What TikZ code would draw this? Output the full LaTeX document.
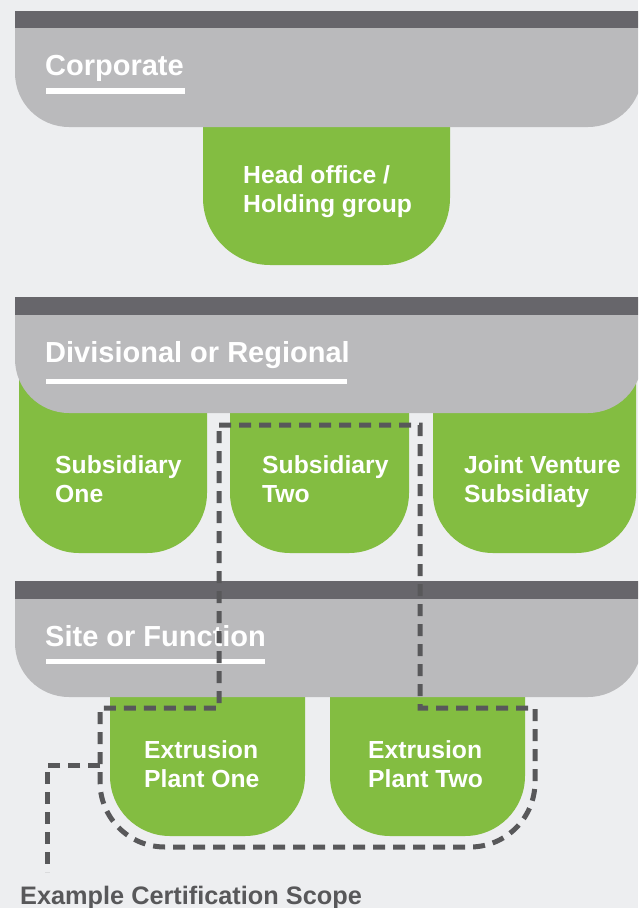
\documentclass[tikz,border=0pt]{standalone}
\usepackage{fontspec}
\setmainfont{Liberation Sans}
\definecolor{bgc}{HTML}{EDEEF0}
\definecolor{barc}{HTML}{67666B}
\definecolor{bandc}{HTML}{BABABC}
\definecolor{grn}{HTML}{83BD41}
\definecolor{dashc}{HTML}{58585A}
\newcommand\greenbox[5]{% x1 x2 top bottom radius
  \fill[grn] (#1,#3) -- (#1,{#4-#5}) arc[start angle=180,end angle=270,radius=#5pt]
    -- ({#2-#5},#4) arc[start angle=270,end angle=360,radius=#5pt] -- (#2,#3) -- cycle;}
\newcommand\tierband[3]{% bar top, band top, band bottom
  \fill[barc] (15,#1) rectangle (640,#2);
  \fill[bandc] (15,#2) -- (15,{#3-54}) arc[start angle=180,end angle=270,radius=54pt]
    -- (588,#3) arc[start angle=270,end angle=360,radius=54pt] -- (642,#2) -- cycle;}
\tikzset{
  hdr/.style={anchor=base west, inner sep=0pt, text=white, font=\fontsize{29}{34}\selectfont\bfseries},
  lbl/.style={anchor=base west, inner sep=0pt, text=white, align=left, font=\fontsize{24.7}{29}\selectfont\bfseries},
  uline/.style={fill=white},
  scope line/.style={draw=dashc, line width=5pt, dash pattern=on 12pt off 8pt}
}
\begin{document}
\begin{tikzpicture}[x=1pt,y=-1pt]
\useasboundingbox (0,0) rectangle (638,908);
\clip (0,0) rectangle (638,908);
\fill[bgc] (0,0) rectangle (638,908);
% tier 1
\greenbox{203}{450}{40}{265}{67}
\tierband{11}{28}{127}
\node[hdr] (corp) at (45,75) {Corporate};
\fill[uline] (46,88) rectangle (185,94);
\node[lbl] (ho) at (243,212) {Head office /\\Holding group};
% tier 2
\greenbox{19}{207}{330}{553}{60}
\greenbox{230}{409}{330}{553}{60}
\greenbox{433}{636}{330}{553}{60}
\tierband{297}{315}{413}
\node[hdr] (div) at (45,362) {Divisional or Regional};
\fill[uline] (46,379) rectangle (347,384);
\node[lbl] (s1) at (55,502) {Subsidiary\\One};
\node[lbl] (s2) at (262,502) {Subsidiary\\Two};
\node[lbl] (jv) at (464,502) {Joint Venture\\Subsidiaty};
% tier 3
\greenbox{110}{305}{610}{836}{60}
\greenbox{330}{525}{610}{836}{60}
\tierband{581}{599}{697}
\node[hdr] (site) at (45,646) {Site or Function};
\fill[uline] (46,659) rectangle (265,664);
\node[lbl] (p1) at (144,787) {Extrusion\\Plant One};
\node[lbl] (p2) at (368,787) {Extrusion\\Plant Two};
% scope
\draw[scope line] (219,425) -- (420,425) -- (420,708) -- (535,708) -- (535,782)
  arc[start angle=0,end angle=-90,radius=65pt] -- (165,847)
  arc[start angle=270,end angle=180,radius=65pt] -- (100,708) -- (219,708) -- cycle;
\coordinate (join) at (100,765);
\coordinate (tail) at (47,872);
\node[anchor=base west, inner sep=0pt, text=dashc, font=\fontsize{25.3}{30}\selectfont\bfseries] (scope) at (20,904) {Example Certification Scope};
\draw[scope line] (join) -| (tail);
\end{tikzpicture}
\end{document}
